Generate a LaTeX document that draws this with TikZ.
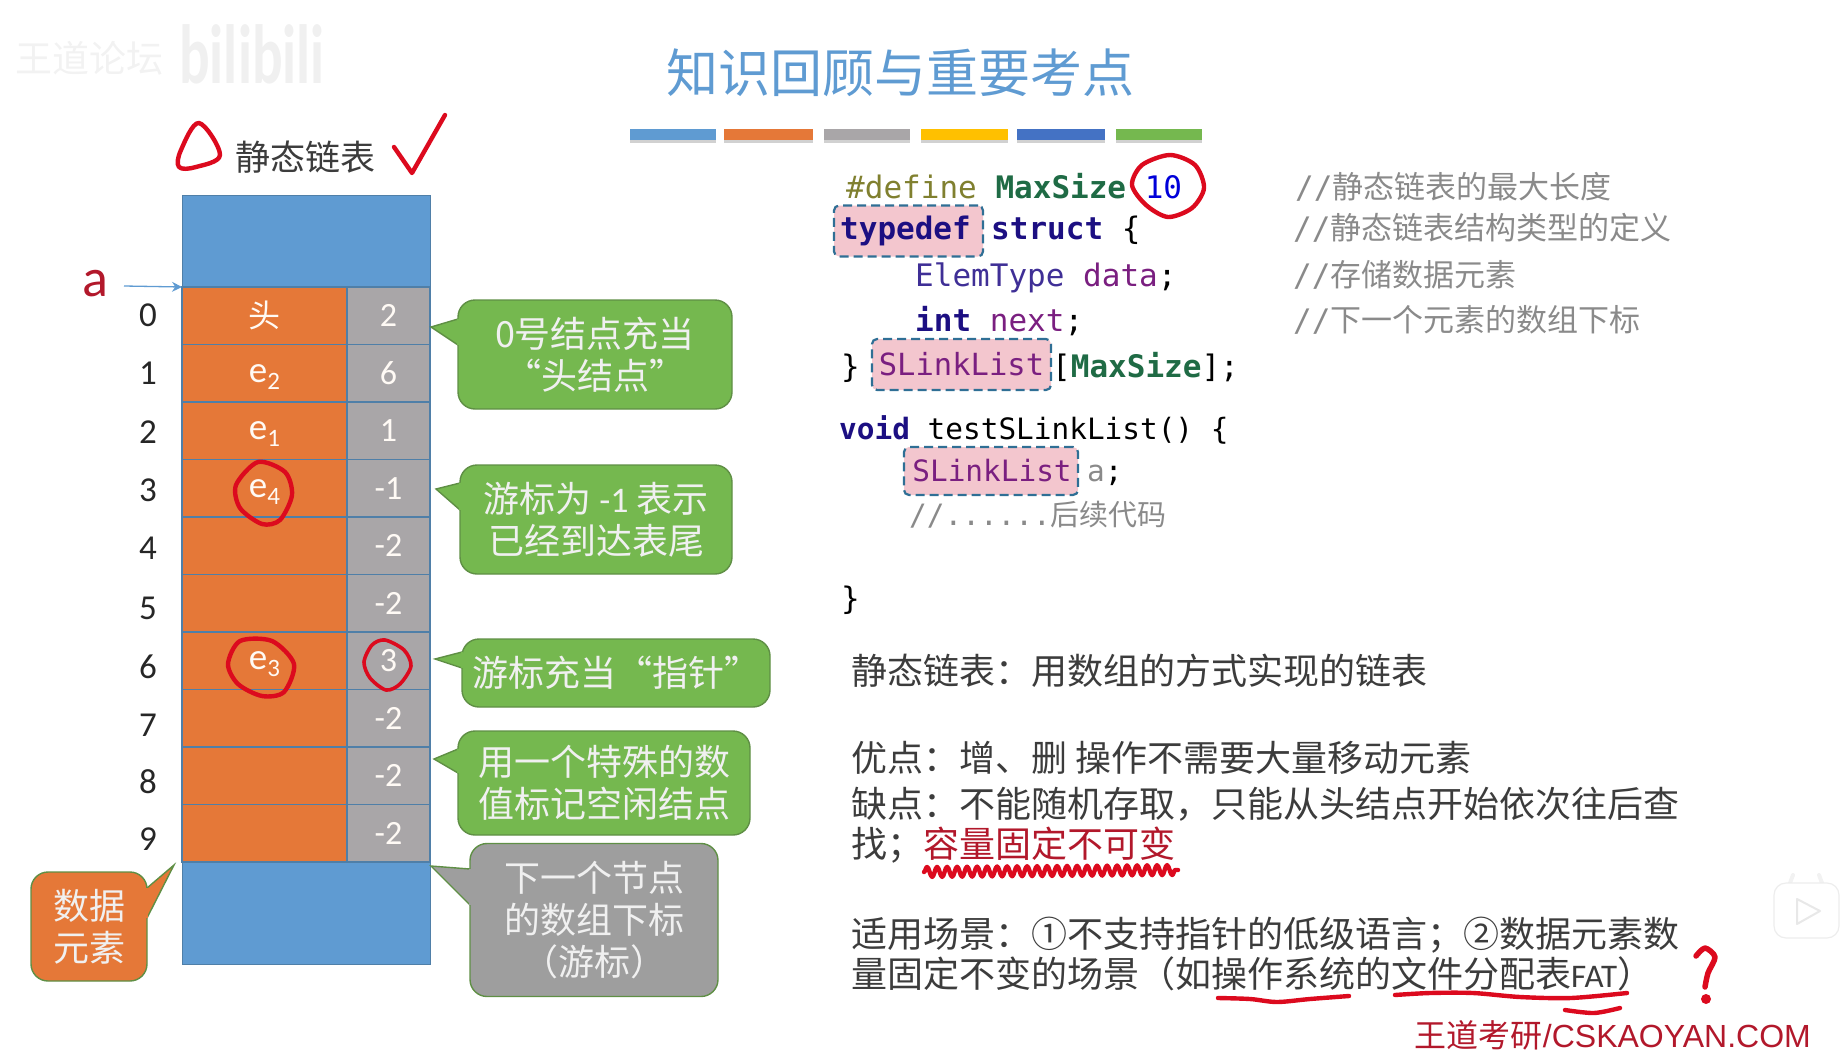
\documentclass[tikz,border=0pt]{standalone}
\usepackage{fontspec}
\setmainfont{Noto Sans CJK SC}
\setmonofont{DejaVu Sans Mono}
\newfontfamily\latn{Carlito}
\newfontfamily\arialf{Liberation Sans}
\usetikzlibrary{arrows.meta, decorations.pathmorphing}
\definecolor{cblue}{HTML}{5F9BD2}
\definecolor{corange}{HTML}{E57838}
\definecolor{cgrey}{HTML}{A9A6A8}
\definecolor{cgreen}{HTML}{75B84F}
\definecolor{cedge}{HTML}{5F8F45}
\definecolor{cline}{HTML}{4F7FA8}
\definecolor{cred}{HTML}{DC0A1E}
\definecolor{cdark}{HTML}{B2182B}
\definecolor{ctext}{HTML}{3C3C3C}
\definecolor{ckey}{HTML}{1C0F82}
\definecolor{cdef}{HTML}{80802F}
\definecolor{cname}{HTML}{1F6B45}
\definecolor{ctype}{HTML}{3F2F96}
\definecolor{cvar}{HTML}{7A1F80}
\definecolor{cnote}{HTML}{8A8A8A}
\definecolor{cpink}{HTML}{F3C6CE}
\definecolor{cdash}{HTML}{2F6F95}
\definecolor{cyellow}{HTML}{FFC000}
\definecolor{cdeep}{HTML}{4472C4}
\newcommand{\fs}[1]{\fontsize{#1}{#1}\selectfont}
\newcommand{\esub}[1]{{\latn\fs{37}\rule{0pt}{25pt}e\raisebox{-7pt}{\fontsize{25}{25}\selectfont #1}}}
\tikzset{
  cell/.style={draw=cline, line width=1.6pt, fill=#1, inner sep=0pt, outer sep=0pt, text=white!96!orange, minimum height=57.5pt},
  tall/.style={draw=cline, line width=1pt, fill=cblue, inner sep=0pt, outer sep=0pt, minimum width=248pt},
  rowno/.style={font=\latn\fs{35}, text=black!85, inner sep=0pt},
  bubble/.style={draw=cedge, line width=1.4pt, fill=#1, rounded corners=17pt, inner sep=0pt, align=center, text=white!94!black, font=\fontsize{36}{42}\selectfont},
  bubble/.default=cgreen,
  tipside/.style={draw=cedge, line width=1.4pt, fill=#1},
  codeline/.style={anchor=west, inner sep=0pt, text height=24pt, text depth=7pt, font=\ttfamily\fs{31}},
  codesmall/.style={codeline, font=\ttfamily\fs{29.4}},
  note/.style={codeline, text=cnote},
  para/.style={anchor=west, inner sep=0pt, text=ctext, text height=30pt, text depth=6pt, font=\fs{36}},
  tag/.style={draw=cdash, dashed, dash pattern=on 9pt off 5pt, line width=2.2pt, fill=cpink, rounded corners=5pt, inner sep=0pt, outer sep=0pt, font=\ttfamily\fs{31}},
  hand/.style={draw=cred, line width=4.4pt, line cap=round, line join=round},
}
\begin{document}
\begin{tikzpicture}[x=1pt, y=-1pt]
  \newcommand{\tipat}[4]{%
    \draw[tipside=#1] #2 -- #3 -- #4;
    \draw[draw=#1, line width=2.4pt] #2 -- #4;}
  \useasboundingbox (0,0) rectangle (1844,1057);

  % watermark and heading
  \node[inner sep=0pt, text=black!5, font=\fs{37}] (wmark) at (90,58) {王道论坛};
  \node[inner sep=0pt, text=black!6, font=\latn\bfseries\fs{84}, xscale=.68, transform shape] (bili) at (252,54) {bilibili};
  \node[inner sep=0pt, text=cblue, font=\fs{52}] (title) at (900,73) {知识回顾与重要考点};
  \foreach \xa/\xb/\col in {630/716/cblue, 724/813/corange, 824/910/cgrey, 921/1008/cyellow, 1017/1105/cdeep, 1116/1202/cgreen} {
    \fill[black!18] (\xa,132) rectangle (\xb,143);
    \fill[\col] (\xa,129) rectangle (\xb,140);
  }

  % the array
  \node[inner sep=0pt, text=ctext, font=\fs{35}] (arrname) at (305,157) {静态链表};
  \node[tall, minimum height=92pt] (topblue) at (306,241) {};
  \node[tall, minimum height=102pt] (botblue) at (306,913) {};
  \foreach \i/\dat/\val/\ny in {0/头/2/315, 1/\esub{2}/6/373, 2/\esub{1}/1/432, 3/\esub{4}/-1/490, 4//-2/548, 5//-2/608, 6/\esub{3}/3/667, 7//-2/725, 8//-2/782, 9//-2/839} {
    \pgfmathsetmacro{\yy}{315.75+57.5*\i}
    \node[cell=corange, minimum width=165pt, font=\fs{32}] (dat\i) at (264.5,\yy) {\dat};
    \node[cell=cgrey, minimum width=83pt, font=\latn\fs{34}] (cur\i) at (388.5,\yy) {\val};
    \node[rowno] (no\i) at (148,\ny) {\i};
  }
  \node[inner sep=0pt, text=cdark, font=\latn\fs{54}] (aname) at (95,284) {a};
  \coordinate (astart) at (124,286);
  \draw[draw=cblue, line width=1.3pt, -{Stealth[length=10pt, width=10pt]}] (astart) -- (topblue.south west);

  % callouts
  \node[bubble, minimum width=274pt, minimum height=109pt] (headnote) at (595,354.5) {0号结点充当\\“头结点”};
  \tipat{cgreen}{(458,319)}{(431,327)}{(458,345)}
  \node[bubble, minimum width=272pt, minimum height=109pt] (endnote) at (596,519.5) {游标为 {\latn -1} 表示\\已经到达表尾};
  \tipat{cgreen}{(460,483)}{(436,489)}{(460,510)}
  \node[bubble, minimum width=308pt, minimum height=68pt] (ptrnote) at (616,673) {游标充当“指针”};
  \tipat{cgreen}{(462,652)}{(435,659)}{(462,668)}
  \node[bubble, minimum width=292pt, minimum height=104pt] (freenote) at (604,783) {用一个特殊的数\\值标记空闲结点};
  \tipat{cgreen}{(458,749)}{(434,759)}{(458,773)}
  \node[bubble=black!38, minimum width=248pt, minimum height=153pt] (nextnote) at (594,920) {下一个节点\\的数组下标\\（游标）};
  \tipat{black!38}{(470,869)}{(431,866)}{(470,905)}
  \node[bubble=corange, minimum width=116pt, minimum height=109pt] (datanote) at (89,926.5) {数据\\元素};
  \tipat{corange}{(147,888)}{(174,865)}{(147,918)}

  % code
  \node[codeline] (l1) at (846,190) {\textcolor{cdef}{\#define} \textcolor{cname}{\textbf{MaxSize}} \textcolor{blue!85!black}{10}};
  \node[tag, minimum width=149pt, minimum height=51pt, text=ckey] (ktype) at (908.5,231) {\textbf{typedef}\hspace*{6pt}};
  \node[codeline] (l2) at (991,231) {\textcolor{ckey}{\textbf{struct}} \{};
  \node[codeline] (l3) at (915,278) {\textcolor{ctype}{ElemType} \textcolor{cvar}{data}\textcolor{black}{;}};
  \node[codeline] (l4) at (915,323) {\textcolor{ckey}{\textbf{int}} \textcolor{cvar}{next};};
  \node[codeline] (l5a) at (841,369) {\}};
  \node[tag, minimum width=179pt, minimum height=51pt, text=cvar, font=\ttfamily\fs{30.5}] (ktag) at (961.5,364.5) {SLinkList};
  \node[codeline] (l5b) at (1052,369) {[\textcolor{cname}{\textbf{MaxSize}}];};
  \node[codesmall] (l6) at (839,431) {\textcolor{ckey}{\textbf{void}} testSLinkList() \{};
  \node[tag, minimum width=174pt, minimum height=48pt, text=cvar, font=\ttfamily\fs{29.4}] (kvar) at (991,471) {\hspace*{2pt}SLinkList};
  \node[codesmall] (l7) at (1087,473) {\textcolor{cnote}{a};};
  \node[note, font=\ttfamily\fs{29.4}] (l8) at (909,517) {//......{\rmfamily\fs{29}后续代码}};
  \node[codeline] (l9) at (841,601) {\}};

  % comments
  \node[note] (n1) at (1295,190) {//{\rmfamily 静态链表的最大长度}};
  \node[note] (n2) at (1293,231) {//{\rmfamily 静态链表结构类型的定义}};
  \node[note] (n3) at (1293,278) {//{\rmfamily 存储数据元素}};
  \node[note] (n4) at (1293,323) {//{\rmfamily 下一个元素的数组下标}};

  % summary
  \node[para] (s1) at (851,672) {静态链表：用数组的方式实现的链表};
  \node[para] (s2) at (851,759) {优点：增、删 操作不需要大量移动元素};
  \node[para] (s3) at (851,805) {缺点：不能随机存取，只能从头结点开始依次往后查};
  \node[para] (s4) at (851,845) {找；\textcolor{cdark}{容量固定不可变}};
  \node[para] (s5) at (851,935) {适用场景：①不支持指针的低级语言；②数据元素数};
  \node[para] (s6) at (851,975) {量固定不变的场景（如操作系统的文件分配表{\latn\fs{33}FAT}）};
  \node[anchor=east, inner sep=0pt, text=cdark, font=\arialf\fs{32}] (site) at (1811,1035) {{\rmfamily 王道考研}/CSKAOYAN.COM};

  % handwriting
  \draw[hand] plot[smooth cycle, tension=.6] coordinates {(199,123) (220,155) (196,167) (179,167) (181,150)};
  \draw[hand] (394,147) -- (412,173) -- (445,115);
  \draw[hand] plot[smooth cycle] coordinates {(258,462) (285,472) (292,495) (280,520) (262,524) (240,508) (236,485)};
  \draw[hand] plot[smooth cycle] coordinates {(240,641) (272,641) (294,664) (284,692) (262,696) (238,684) (228,664)};
  \draw[hand, line width=3.6pt] plot[smooth cycle] coordinates {(385,640) (404,650) (411,666) (400,684) (386,690) (370,678) (364,662) (372,645)};
  \draw[hand] plot[smooth cycle] coordinates {(1170,155) (1195,165) (1204,188) (1192,208) (1168,217) (1146,205) (1132,185) (1142,165)};
  \draw[hand, decorate, decoration={snake, amplitude=5pt, segment length=10pt}] (924,872) -- (1178,870);
  \draw[hand] plot[smooth] coordinates {(1218,998) (1250,999) (1277,1002) (1310,999) (1349,996)};
  \draw[hand] plot[smooth] coordinates {(1395,995) (1430,993) (1473,993) (1520,997) (1571,998) (1627,993)};
  \draw[hand] plot[smooth] coordinates {(1565,1010) (1594,1013) (1620,1008)};
  \draw[hand, line width=5.5pt] plot[smooth] coordinates {(1696,956) (1705,948) (1715,957) (1708,973) (1705,987)};
  \fill[cred] (1706,999) circle (5pt);

  % player badge
  \draw[black!5, line width=4pt, line cap=round] (1790,883) -- (1793,875) (1822,883) -- (1819,875);
  \draw[draw=black!7, fill=white, line width=1.2pt, rounded corners=12pt] (1774,883) rectangle (1839,938);
  \draw[black!9, line width=2pt, line join=round] (1797,899) -- (1820,911) -- (1797,924) -- cycle;
\end{tikzpicture}
\end{document}
